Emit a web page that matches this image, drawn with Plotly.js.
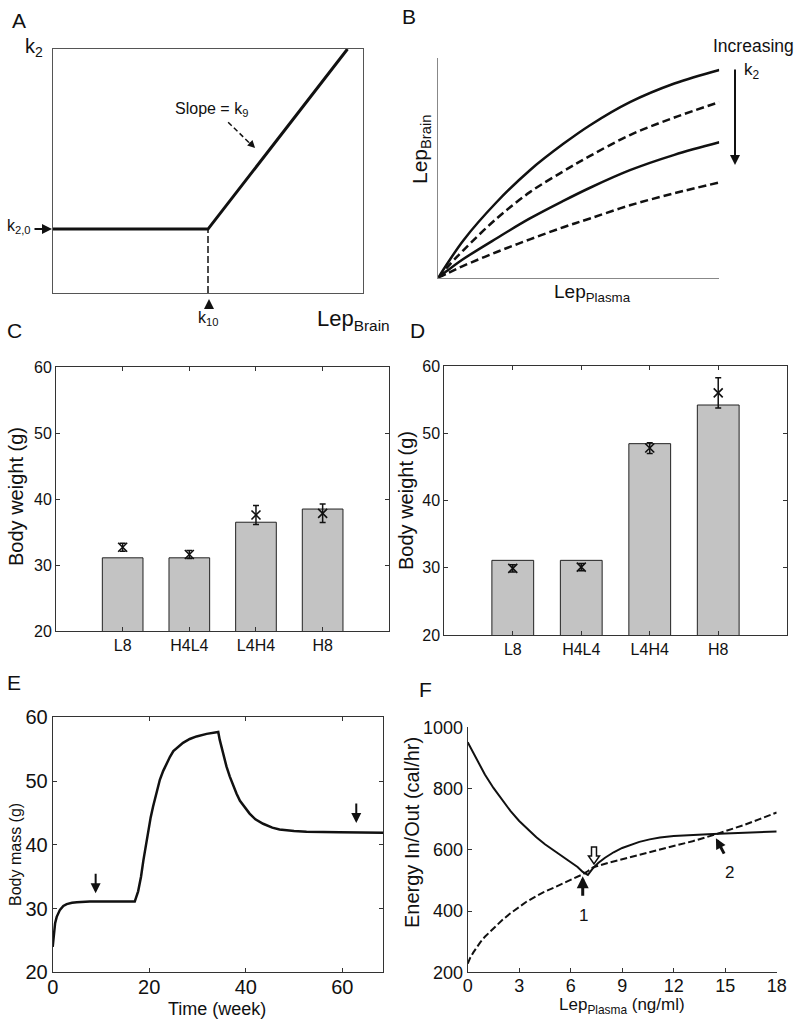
<!DOCTYPE html>
<html>
<head>
<meta charset="utf-8">
<script src="https://cdn.plot.ly/plotly-3.0.1.min.js"></script>
<style>html,body{margin:0;padding:0;background:#fff;}#chart{width:800px;height:1025px;}</style>
</head>
<body>
<div id="chart"></div>
<script>
// ---------- DATA ----------
// Panel A: piecewise k2 vs LepBrain (normalised units)
const A_x = [0, 0.5, 0.95];
const A_y = [0.262, 0.262, 1];

// Panel B: LepBrain vs LepPlasma for increasing k2 (normalised units)
const B_x      = [0, 0.03, 0.089, 0.208, 0.326, 0.445, 0.54, 0.682, 0.84, 1];
const B_solid1 = [0, 0.060, 0.170, 0.345, 0.490, 0.610, 0.695, 0.800, 0.885, 0.947];
const B_dash1  = [0, 0.045, 0.125, 0.270, 0.390, 0.485, 0.555, 0.650, 0.730, 0.800];
const B_solid2 = [0, 0.030, 0.085, 0.180, 0.270, 0.350, 0.410, 0.490, 0.560, 0.617];
const B_dash2  = [0, 0.018, 0.054, 0.117, 0.175, 0.230, 0.270, 0.330, 0.385, 0.434];

// Panels C and D: body weight per protocol
const categories = ['L8', 'H4L4', 'L4H4', 'H8'];
const catPos = [1, 2, 3, 4];
const C_model = [31.1, 31.1, 36.5, 38.5];
const C_exp   = [32.7, 31.6, 37.6, 37.85];
const C_err   = [0.6, 0.6, 1.45, 1.4];
const D_model = [31.1, 31.1, 48.45, 54.2];
const D_exp   = [29.9, 30.1, 47.8, 56.0];
const D_err   = [0.55, 0.55, 0.8, 2.25];

// Panel E: body mass over time
const E_week = [0, 0.15, 0.28, 0.5, 0.83, 1.2, 1.5, 2.2, 2.9, 4, 5, 7.7, 17.0,
  17.7, 18.3, 18.8, 19.3, 19.8, 20.3, 20.8, 21.5, 22.2, 22.9, 23.6, 24.3, 25.0, 26.0, 27.0, 28.4, 29.8, 31.9, 34.3,
  34.6, 35.0, 35.5, 36.0, 36.7, 37.4, 38.1, 38.8, 39.8, 40.8, 42.0, 43.6, 45.5, 47.0, 50.0, 52.6, 59.4, 68.5];
const E_mass = [24.0, 25.5, 26.6, 27.7, 28.7, 29.4, 29.8, 30.4, 30.7, 30.9, 31.0, 31.1, 31.1,
  32.7, 35.0, 37.6, 40.0, 42.4, 44.3, 46.0, 48.3, 50.2, 51.6, 52.8, 53.8, 54.7, 55.4, 56.0, 56.6, 57.0, 57.4, 57.7,
  56.5, 55.2, 53.7, 52.3, 50.7, 49.3, 48.0, 46.9, 45.8, 44.9, 44.0, 43.3, 42.7, 42.4, 42.15, 42.05, 41.95, 41.9];

// Panel F: energy in (solid) / out (dashed) vs plasma leptin
const F_lepIn = [0, 0.5, 1.0, 1.5, 2.0, 2.5, 3.0, 3.5, 4.0, 4.5, 5.0, 5.5, 6.0, 6.4, 6.7, 7.0,
  7.3, 7.6, 8.0, 8.5, 9.0, 9.5, 10.0, 10.6, 11.2, 12.0, 13.0, 14.0, 15.0, 16.0, 17.0, 18.0];
const F_in = [951, 896, 846, 802, 762, 726, 694, 666, 641, 618, 598, 580, 561, 544, 528, 518,
  540, 557, 574, 592, 606, 617, 626, 634, 640, 645, 649, 651, 653, 656, 658, 660];
const F_lepOut = [0, 0.15, 0.33, 0.5, 0.72, 1.0, 1.5, 2.0, 2.47, 3.0, 3.44, 4.0, 4.4, 5.0, 5.38, 6.0, 6.35, 6.7, 6.99,
  7.32, 8.29, 9.26, 10.2, 11.2, 12.2, 13.1, 14.3, 15.2, 16.1, 17.0, 18.0];
const F_out = [228, 248, 265, 280, 297, 316, 344, 370, 392, 414, 431, 449, 461, 476, 486, 500, 510, 520, 530,
  543, 559, 573, 586, 600, 614, 628, 648, 664, 681, 700, 722];

// ---------- LAYOUT HELPERS ----------
const W = 800, H = 1025;
const FONT = 'Liberation Sans, Arial, Helvetica, sans-serif';
const INK = '#111';
function dx(a, b) { return [a / W, b / W]; }
function dy(top, bottom) { return [1 - bottom / H, 1 - top / H]; }
function axis(domain, extra) {
  return Object.assign({
    domain: domain, showgrid: false, zeroline: false, showline: true,
    linecolor: '#333', linewidth: 1, ticks: 'inside', ticklen: 4,
    tickcolor: '#333', tickfont: {family: FONT, size: 16, color: INK},
    fixedrange: true
  }, extra);
}
function txt(text, px, py, size, extra) {
  return Object.assign({
    text: text, x: px / W, y: 1 - py / H, xref: 'paper', yref: 'paper',
    xanchor: 'center', yanchor: 'middle', showarrow: false,
    font: {family: FONT, size: size, color: INK}
  }, extra || {});
}
function arrow(xref, yref, x, y, axp, ayp, width, size) {
  return {
    text: '', x: x, y: y, xref: xref, yref: yref, ax: axp, ay: ayp,
    showarrow: true, arrowhead: 2, arrowsize: size || 1, arrowwidth: width || 2, arrowcolor: INK
  };
}
function pathPx(pts) {
  return 'M' + pts.map(function (p) { return (p[0] / W).toFixed(5) + ',' + (1 - p[1] / H).toFixed(5); }).join(' L') + ' Z';
}

// ---------- TRACES ----------
const traces = [];
// A
traces.push({x: A_x, y: A_y, xaxis: 'x', yaxis: 'y', mode: 'lines', line: {color: INK, width: 3}});
traces.push({x: [A_x[1], A_x[1]], y: [0, A_y[1]], xaxis: 'x', yaxis: 'y', mode: 'lines', line: {color: INK, width: 1.5, dash: '7px,3px'}});
// B
[[B_solid1, 'solid'], [B_dash1, '8px,4px'], [B_solid2, 'solid'], [B_dash2, '8px,4px']].forEach(function (s) {
  traces.push({x: B_x, y: s[0], xaxis: 'x2', yaxis: 'y2', mode: 'lines',
    line: {color: INK, width: 2.5, dash: s[1], shape: 'spline', smoothing: 1}});
});
// C, D bars + experimental points
function barPanel(xa, ya, model, exp, err) {
  traces.push({type: 'bar', x: catPos, y: model, xaxis: xa, yaxis: ya, width: 0.61,
    marker: {color: '#c3c3c3', line: {color: '#222', width: 1}}});
  traces.push({type: 'scatter', mode: 'markers', x: catPos, y: exp, xaxis: xa, yaxis: ya,
    marker: {symbol: 'x-thin', size: 9, color: INK, line: {color: INK, width: 1.6}},
    error_y: {type: 'data', array: err, visible: true, color: INK, thickness: 1.5, width: 3}});
}
barPanel('x3', 'y3', C_model, C_exp, C_err);
barPanel('x4', 'y4', D_model, D_exp, D_err);
// E
traces.push({x: E_week, y: E_mass, xaxis: 'x5', yaxis: 'y5', mode: 'lines',
  line: {color: INK, width: 2.5}});
// F
traces.push({x: F_lepIn, y: F_in, xaxis: 'x6', yaxis: 'y6', mode: 'lines',
  line: {color: INK, width: 2}});
traces.push({x: F_lepOut, y: F_out, xaxis: 'x6', yaxis: 'y6', mode: 'lines',
  line: {color: INK, width: 2, dash: '7px,3px'}});

// ---------- LAYOUT ----------
const noTicks = {ticks: '', showticklabels: false};
const layout = {
  width: W, height: H, margin: {l: 0, r: 0, t: 0, b: 0},
  paper_bgcolor: '#fff', plot_bgcolor: 'rgba(0,0,0,0)', showlegend: false,
  font: {family: FONT, color: INK},
  // A
  xaxis:  axis(dx(53, 363), Object.assign({range: [0, 1], anchor: 'y', mirror: true, linecolor: '#555'}, noTicks)),
  yaxis:  axis(dy(49, 293), Object.assign({range: [0, 1], anchor: 'x', mirror: true, linecolor: '#555'}, noTicks)),
  // B
  xaxis2: axis(dx(438.3, 719.3), Object.assign({range: [0, 1], anchor: 'y2', linecolor: '#888'}, noTicks)),
  yaxis2: axis(dy(58.3, 277.7), Object.assign({range: [0, 1], anchor: 'x2', linecolor: '#888'}, noTicks)),
  // C
  xaxis3: axis(dx(56, 389.3), {range: [0, 5], anchor: 'y3', mirror: 'ticks', tickvals: catPos, ticktext: categories}),
  yaxis3: axis(dy(367.3, 631), {range: [20, 60], dtick: 10, anchor: 'x3', mirror: 'ticks'}),
  // D
  xaxis4: axis(dx(444.3, 786.7), {range: [0, 5], anchor: 'y4', mirror: 'ticks', tickvals: catPos, ticktext: categories}),
  yaxis4: axis(dy(366, 635), {range: [20, 60], dtick: 10, anchor: 'x4', mirror: 'ticks'}),
  // E
  xaxis5: axis(dx(52.7, 383.3), {range: [0, 68.5], tickvals: [0, 20, 40, 60], anchor: 'y5', mirror: 'ticks', ticklabelstandoff: -3, tickfont: {family: FONT, size: 20, color: INK}}),
  yaxis5: axis(dy(717.3, 972.3), {range: [20, 60], dtick: 10, anchor: 'x5', mirror: 'ticks', tickfont: {family: FONT, size: 20, color: INK}}),
  // F
  xaxis6: axis(dx(467.7, 776.7), {range: [0, 18], dtick: 3, anchor: 'y6', ticklabelstandoff: -3, tickfont: {family: FONT, size: 18, color: INK}}),
  yaxis6: axis(dy(727.3, 972.3), {range: [200, 1000], dtick: 200, anchor: 'x6', tickfont: {family: FONT, size: 18, color: INK}}),
  shapes: [
    // dashed shaft of the "Slope" pointer in A
    {type: 'line', xref: 'x', yref: 'y', x0: 0.565, y0: 0.70, x1: 0.64, y1: 0.607,
     line: {color: INK, width: 1.5, dash: '5px,3px'}},
    // hollow arrow in F
    {type: 'path', xref: 'paper', yref: 'paper',
     path: pathPx([[591.5, 847], [596.5, 847], [596.5, 856], [599.5, 856], [594, 864], [588.5, 856], [591.5, 856]]),
     fillcolor: '#fff', line: {color: INK, width: 1.5}}
  ],
  annotations: [
    // panel letters
    txt('A', 19, 20, 21), txt('B', 409, 16, 21), txt('C', 14, 330, 21),
    txt('D', 417, 330, 21), txt('E', 14, 682, 21), txt('F', 425, 689, 21),
    // A
    txt('k<sub>2</sub>', 34, 47, 20),
    txt('k<sub>2,0</sub>', 19, 227, 16),
    txt('k<sub>10</sub>', 208, 318, 16),
    txt('Lep<sub>Brain</sub>', 353, 320, 22),
    txt('Slope = k<sub>9</sub>', 211, 110, 16),
    arrow('paper', 'paper', 52 / W, 1 - 229 / H, -19, 0, 2),
    arrow('paper', 'paper', 209 / W, 1 - 299 / H, 0, 11, 2),
    arrow('x', 'y', 0.652, 0.594, -7, -7, 1.5),
    // B
    txt('Lep<sub>Brain</sub>', 421, 150, 21, {textangle: -90}),
    txt('Lep<sub>Plasma</sub>', 592, 293, 19),
    txt('Increasing', 753, 46, 17.5),
    txt('k<sub>2</sub>', 752, 71, 17),
    arrow('paper', 'paper', 735 / W, 1 - 165 / H, 0, -97, 2),
    // C, D
    txt('Body weight (g)', 16, 497, 20, {textangle: -90}),
    txt('Body weight (g)', 406, 500, 20, {textangle: -90}),
    // E
    txt('Body mass (g)', 15, 855, 16, {textangle: -90}),
    txt('Time (week)', 217, 1009, 18),
    arrow('x5', 'y5', 8.9, 32.4, 0, -21, 2),
    arrow('x5', 'y5', 62.9, 43.4, 0, -21, 2),
    // F
    txt('Energy In/Out (cal/hr)', 412, 833, 20, {textangle: -90}),
    txt('Lep<sub>Plasma</sub> (ng/ml)', 622, 1006, 17),
    arrow('x6', 'y6', 6.7, 514, 0, 21, 3, 0.8),
    txt('1', 583, 915, 17),
    arrow('x6', 'y6', 14.46, 638, 9, 17, 3, 0.7),
    txt('2', 729, 872, 17)
  ]
};

Plotly.newPlot('chart', traces, layout, {staticPlot: true, displayModeBar: false});
</script>
</body>
</html>
